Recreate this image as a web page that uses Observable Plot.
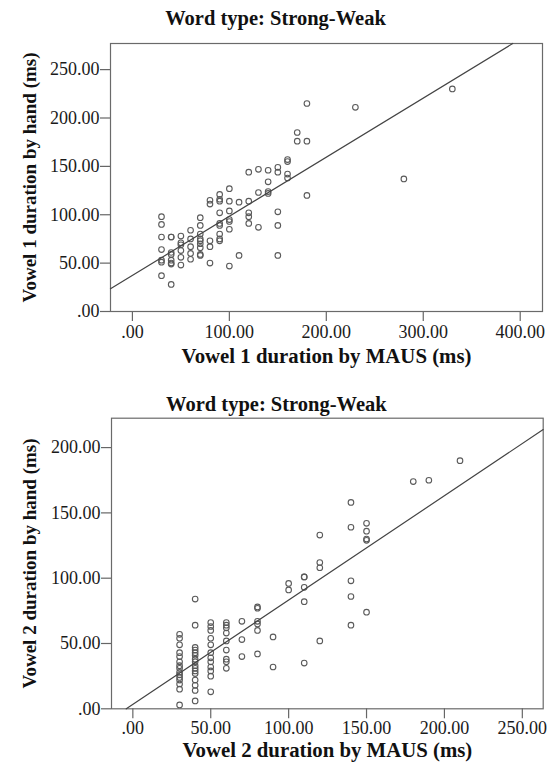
<!DOCTYPE html>
<html><head><meta charset="utf-8">
<script src="https://cdn.jsdelivr.net/npm/d3@7"></script>
<script src="https://cdn.jsdelivr.net/npm/@observablehq/plot@0.6"></script>
<style>body{margin:0;background:#fff} #chart svg{display:block}</style>
</head><body><div id="chart"></div>
<script>
const chartTitle = "Word type: Strong-Weak";

// Chart 1: Vowel 1
const v1Maus = [
  30,30,30,30,30,30,30,
  40,40,40,40,40,40,40,40,
  50,50,50,50,50,50,
  60,60,60,60,60,
  70,70,70,70,70,70,70,70,70,
  80,80,80,80,80,
  90,90,90,90,90,90,90,90,90,
  100,100,100,100,100,100,100,
  110,110,
  120,120,120,120,120,
  130,130,130,
  140,140,140,140,
  150,150,150,150,150,
  160,160,160,160,
  170,170,
  180,180,180,
  230,280,330
];
const v1Hand = [
  98,90,77,64,53,51,37,
  77,77,61,59,53,50,49,28,
  78,71,69,63,56,48,
  84,75,67,60,54,
  97,89,80,75,73,70,66,59,58,
  115,111,73,67,50,
  121,116,114,102,91,89,80,75,73,
  127,114,104,95,93,85,47,
  113,58,
  144,114,102,98,91,
  147,123,87,
  146,134,124,122,
  149,144,103,89,58,
  157,155,142,138,
  185,176,
  215,176,120,
  211,137,230
];
const v1Fit = [37.3, 0.611];          // intercept, slope of the fit line
const v1XDomain = [-22.6, 423];
const v1YDomain = [0, 277];
const v1XTicks = [0, 100, 200, 300, 400];
const v1YTicks = [0, 50, 100, 150, 200, 250];
const v1XLabel = "Vowel 1 duration by MAUS (ms)";
const v1YLabel = "Vowel 1 duration by hand (ms)";

// Chart 2: Vowel 2
const v2Maus = [
  30,30,30,30,30,30,30,30,30,30,30,30,30,30,30,
  40,40,40,40,40,40,40,40,40,40,40,40,40,40,40,40,
  50,50,50,50,50,50,50,50,50,50,50,50,
  60,60,60,60,60,60,60,60,60,
  70,70,70,
  80,80,80,80,80,80,
  90,90,
  100,100,
  110,110,110,110,110,
  120,120,120,120,
  140,140,140,140,140,
  150,150,150,150,150,
  180,190,210
];
const v2Hand = [
  57,54,49,43,40,36,33,31,28,26,24,22,19,15,3,
  84,64,47,45,43,41,38,36,33,31,29,27,22,18,14,6,
  66,63,60,54,49,43,39,36,32,29,25,13,
  66,64,62,58,52,45,38,36,31,
  67,53,40,
  78,77,67,65,60,42,
  55,32,
  96,91,
  101,101,93,82,35,
  133,112,108,52,
  158,139,98,86,64,
  142,136,130,129,74,
  174,175,190
];
const v2Fit = [3.36, 0.799];
const v2XDomain = [-13.7, 263.4];
const v2YDomain = [0, 222.5];
const v2XTicks = [0, 50, 100, 150, 200, 250];
const v2YTicks = [0, 50, 100, 150, 200];
const v2XLabel = "Vowel 2 duration by MAUS (ms)";
const v2YLabel = "Vowel 2 duration by hand (ms)";

const fmt = v => v === 0 ? ".00" : d3.format(".2f")(v);

function scatter(o) {
  const pts = o.xs.map((x, i) => ({x, y: o.ys[i]}));
  const [b, m] = o.fit;
  const xa = Math.max(o.xDomain[0], (o.yDomain[0] - b) / m);
  const xb = Math.min(o.xDomain[1], (o.yDomain[1] - b) / m);
  const fitLine = [{x: xa, y: b + m * xa}, {x: xb, y: b + m * xb}];
  const svg = Plot.plot({
    width: 554,
    height: o.height,
    marginTop: o.mt, marginRight: o.mr, marginBottom: o.mb, marginLeft: o.ml,
    style: {fontFamily: "'Liberation Serif', 'Times New Roman', serif", fontSize: "18px", color: "#1a1a1a", background: "#fff", overflow: "visible"},
    x: {domain: o.xDomain, ticks: o.xTicks, tickFormat: fmt, tickSize: 10, tickPadding: o.xPad, label: null},
    y: {domain: o.yDomain, ticks: o.yTicks, tickFormat: fmt, tickSize: 10, tickPadding: 1, label: null},
    marks: [
      Plot.frame({stroke: "#6a6a6a", strokeWidth: 1.2}),
      Plot.dot(pts, {x: "x", y: "y", r: 2.8, stroke: "#5a5a5a", strokeWidth: 1.1, fill: "none"}),
      Plot.line(fitLine, {x: "x", y: "y", stroke: "#444", strokeWidth: 1.2}),
      Plot.text([chartTitle], {text: d => d, frameAnchor: "top", lineAnchor: "middle", textAnchor: "middle", dx: o.titleDx, dy: o.titleDy, fontWeight: "bold", fontSize: 20.5, fill: "#111"}),
      Plot.text([o.xLabel], {text: d => d, frameAnchor: "bottom", lineAnchor: "middle", textAnchor: "middle", dy: o.xLabelDy, fontWeight: "bold", fontSize: 20.8, fill: "#111"}),
      Plot.text([o.yLabel], {text: d => d, frameAnchor: "left", lineAnchor: "middle", textAnchor: "middle", dx: o.yLabelDx, rotate: -90, fontWeight: "bold", fontSize: 19, fill: "#111"})
    ]
  });
  d3.select(svg).selectAll("g[aria-label*='axis'] line, g[aria-label*='axis'] path").attr("stroke", "#666").attr("stroke-width", 1.2);
  return svg;
}

const chart = document.getElementById("chart");
chart.appendChild(scatter({
  xs: v1Maus, ys: v1Hand, fit: v1Fit, xDomain: v1XDomain, yDomain: v1YDomain,
  xTicks: v1XTicks, yTicks: v1YTicks, xLabel: v1XLabel, yLabel: v1YLabel,
  height: 383, mt: 43, mr: 12, mb: 72, ml: 110, xPad: 4,
  titleDx: -51, titleDy: -25, xLabelDy: 45, yLabelDx: -81
}));
chart.appendChild(scatter({
  xs: v2Maus, ys: v2Hand, fit: v2Fit, xDomain: v2XDomain, yDomain: v2YDomain,
  xTicks: v2XTicks, yTicks: v2YTicks, xLabel: v2XLabel, yLabel: v2YLabel,
  height: 384, mt: 34.7, mr: 11.3, mb: 58.7, ml: 111, xPad: 2,
  titleDx: -51, titleDy: -14, xLabelDy: 42, yLabelDx: -82
}));
</script>
</body></html>
